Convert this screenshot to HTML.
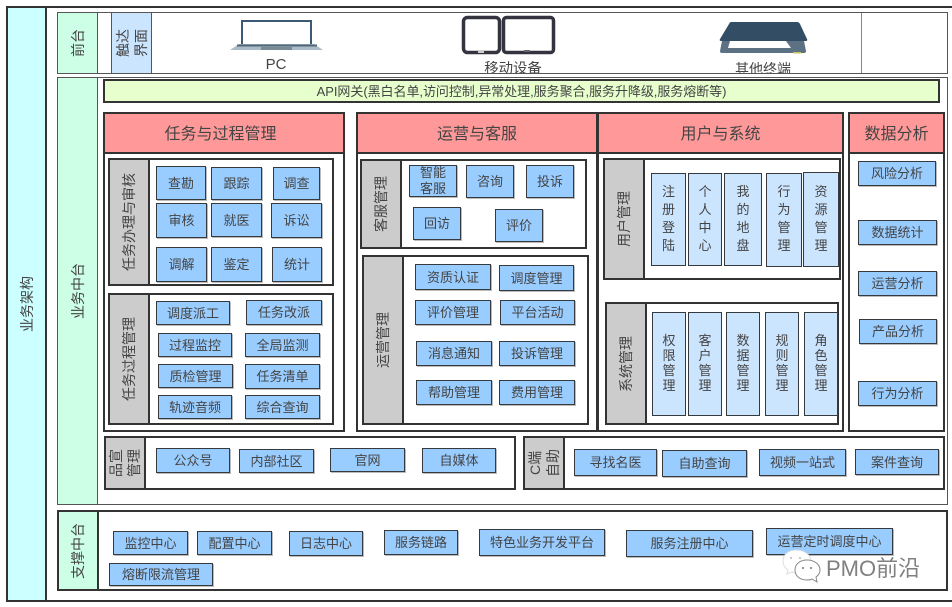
<!DOCTYPE html>
<html lang="zh"><head><meta charset="utf-8"><title>业务架构</title>
<style>
html,body{margin:0;padding:0;background:#fff}
#p{position:relative;width:952px;height:607px;overflow:hidden;background:#fff;font-family:"Liberation Sans","Noto Sans CJK SC",sans-serif;color:#444}
#p div{position:absolute;box-sizing:border-box;display:flex;align-items:center;justify-content:center;text-align:center}
.f{border:2px solid #333;background:#fff}
.t{border:1px solid #555;background:#fff}
.g{border:2px solid #333;background:#ccc;font-size:14px}
.gn{background:#ccffe6;border:1px solid #555;font-size:14px}
.h{border:2px solid #333;background:#ff9999;font-size:16px;padding-bottom:2px}
.b{border:1px solid #36393d;background:#99ccff;font-size:13px;box-shadow:1px 1px 0 #bbb;padding-bottom:2px}
.l{border:1px solid #36393d;background:#cce5ff;font-size:13px;line-height:18px;padding-bottom:2px}
.l.s{line-height:15px}
.v{writing-mode:vertical-rl;text-orientation:sideways;transform:rotate(180deg);line-height:18px;white-space:nowrap;display:block}
.n{font-size:13px;background:none;white-space:nowrap}
</style></head><body><div id="p">

<div class="f" style="left:6px;top:6px;width:960px;height:596px;background:#fff"></div>
<div class="f" style="left:6px;top:6px;width:41px;height:596px;background:#ccffff;font-size:14px"><span class="v">业务架构</span></div>

<div class="t" style="left:57px;top:12px;width:891px;height:62px"></div>
<div class="gn" style="left:57px;top:12px;width:41px;height:62px"><span class="v">前台</span></div>
<div class="t" style="left:111px;top:12px;width:41px;height:62px;background:#cce5ff;font-size:14px"><span class="v">触达<br>界面</span></div>
<div style="left:861px;top:13px;width:1px;height:60px;background:#888"></div>

<svg style="position:absolute;left:225px;top:15px" width="105" height="40" viewBox="0 0 105 40">
<rect x="17" y="6" width="69" height="24" fill="#fff" stroke="#3d5a74" stroke-width="2"/>
<path d="M14 29H89L98 35H5Z" fill="#a9bcc7"/><rect x="12" y="29.500" width="80" height="2" fill="#54687a"/>
<rect x="36" y="32" width="31" height="3" fill="#7a8a95"/></svg>

<svg style="position:absolute;left:460px;top:14px" width="98" height="41" viewBox="0 0 98 41">
<rect x="3.500" y="3.500" width="36" height="35" rx="4" fill="#fff" stroke="#33343f" stroke-width="3.500"/>
<rect x="43.500" y="3.500" width="50" height="35" rx="3" fill="#fff" stroke="#33343f" stroke-width="3.500"/>
<rect x="18" y="36" width="6" height="3" fill="#ccc"/><rect x="64" y="36" width="6" height="2" fill="#666"/></svg>

<svg style="position:absolute;left:715px;top:18px" width="96" height="38" viewBox="0 0 96 38">
<path d="M7 23H89L91 33Q91 35 89 35H7Q5 35 5 33Z" fill="#5c7184"/>
<path d="M15 23H71L76 30H13Z" fill="#fff"/>
<path d="M16 4H82Q84 4 85 6L92 21Q93 23 91 23H6Q4 23 5 21L14 6Q15 4 16 4Z" fill="#334d64"/>
<rect x="78" y="34" width="8" height="1.500" fill="#c7c25c"/></svg>

<div class="n" style="left:256px;top:56px;width:40px;height:17px;font-size:15px">PC</div>
<div class="n" style="left:473px;top:61px;width:80px;height:12px;overflow:hidden;align-items:flex-start;line-height:16px;font-size:14.4px">移动设备</div>
<div class="n" style="left:723px;top:61px;width:80px;height:12px;overflow:hidden;align-items:flex-start;line-height:16px;font-size:14px">其他终端</div>

<div class="t" style="left:57px;top:77px;width:891px;height:428px"></div>
<div class="gn" style="left:57px;top:77px;width:41px;height:428px"><span class="v">业务中台</span></div>
<div class="f" style="left:103px;top:79px;width:837px;height:24px;background:#e6ffcc;font-size:13px;white-space:nowrap;padding-bottom:2px;letter-spacing:-.05px">API网关(黑白名单,访问控制,异常处理,服务聚合,服务升降级,服务熔断等)</div>

<div class="f" style="left:103px;top:112px;width:242px;height:320px"></div>
<div class="h" style="left:103px;top:112px;width:242px;height:42px;padding-right:7px">任务与过程管理</div>
<div class="f" style="left:356px;top:112px;width:242px;height:320px"></div>
<div class="h" style="left:356px;top:112px;width:242px;height:42px">运营与客服</div>
<div class="f" style="left:597px;top:112px;width:247px;height:320px"></div>
<div class="h" style="left:597px;top:112px;width:247px;height:42px">用户与系统</div>
<div class="f" style="left:848px;top:112px;width:97px;height:320px"></div>
<div class="h" style="left:848px;top:112px;width:97px;height:42px">数据分析</div>

<div class="f" style="left:108px;top:158px;width:226px;height:128px"></div>
<div class="g" style="left:108px;top:158px;width:42px;height:128px"><span class="v">任务办理与审核</span></div>
<div class="b" style="left:156px;top:166px;width:50px;height:34px">查勘</div>
<div class="b" style="left:211px;top:167px;width:51px;height:33px">跟踪</div>
<div class="b" style="left:273px;top:167px;width:47px;height:33px">调查</div>
<div class="b" style="left:156px;top:203px;width:51px;height:35px">审核</div>
<div class="b" style="left:211px;top:203px;width:51px;height:34px">就医</div>
<div class="b" style="left:271px;top:203px;width:51px;height:35px">诉讼</div>
<div class="b" style="left:156px;top:247px;width:51px;height:35px">调解</div>
<div class="b" style="left:211px;top:247px;width:51px;height:35px">鉴定</div>
<div class="b" style="left:272px;top:247px;width:50px;height:35px">统计</div>

<div class="f" style="left:108px;top:293px;width:226px;height:132px"></div>
<div class="g" style="left:108px;top:293px;width:42px;height:132px"><span class="v">任务过程管理</span></div>
<div class="b" style="left:156px;top:301px;width:74px;height:24px">调度派工</div>
<div class="b" style="left:246px;top:300px;width:76px;height:25px">任务改派</div>
<div class="b" style="left:158px;top:333px;width:74px;height:24px">过程监控</div>
<div class="b" style="left:245px;top:333px;width:75px;height:24px">全局监测</div>
<div class="b" style="left:158px;top:364px;width:75px;height:24px">质检管理</div>
<div class="b" style="left:245px;top:364px;width:75px;height:25px">任务清单</div>
<div class="b" style="left:158px;top:395px;width:74px;height:24px">轨迹音频</div>
<div class="b" style="left:245px;top:395px;width:75px;height:24px">综合查询</div>

<div class="f" style="left:360px;top:159px;width:227px;height:90px"></div>
<div class="g" style="left:360px;top:159px;width:42px;height:90px"><span class="v">客服管理</span></div>
<div class="b" style="left:409px;top:165px;width:48px;height:32px;line-height:16px;padding:0">智能<br>客服</div>
<div class="b" style="left:466px;top:165px;width:48px;height:33px">咨询</div>
<div class="b" style="left:526px;top:165px;width:48px;height:33px">投诉</div>
<div class="b" style="left:413px;top:207px;width:48px;height:33px">回访</div>
<div class="b" style="left:495px;top:209px;width:48px;height:33px">评价</div>

<div class="f" style="left:362px;top:255px;width:227px;height:170px"></div>
<div class="g" style="left:362px;top:255px;width:42px;height:170px"><span class="v">运营管理</span></div>
<div class="b" style="left:415px;top:264px;width:76px;height:26px">资质认证</div>
<div class="b" style="left:499px;top:265px;width:75px;height:26px">调度管理</div>
<div class="b" style="left:415px;top:300px;width:76px;height:25px">评价管理</div>
<div class="b" style="left:500px;top:300px;width:75px;height:25px">平台活动</div>
<div class="b" style="left:416px;top:341px;width:76px;height:25px">消息通知</div>
<div class="b" style="left:499px;top:341px;width:76px;height:25px">投诉管理</div>
<div class="b" style="left:416px;top:380px;width:76px;height:25px">帮助管理</div>
<div class="b" style="left:499px;top:380px;width:76px;height:25px">费用管理</div>

<div class="f" style="left:603px;top:158px;width:238px;height:122px"></div>
<div class="g" style="left:603px;top:158px;width:42px;height:122px"><span class="v">用户管理</span></div>
<div class="l" style="left:651px;top:173px;width:35px;height:93px">注<br>册<br>登<br>陆</div>
<div class="l" style="left:688px;top:173px;width:34px;height:93px">个<br>人<br>中<br>心</div>
<div class="l" style="left:724px;top:173px;width:38px;height:93px">我<br>的<br>地<br>盘</div>
<div class="l" style="left:766px;top:173px;width:36px;height:94px">行<br>为<br>管<br>理</div>
<div class="l" style="left:803px;top:172px;width:36px;height:95px">资<br>源<br>管<br>理</div>

<div class="f" style="left:605px;top:302px;width:234px;height:123px"></div>
<div class="g" style="left:605px;top:302px;width:42px;height:123px"><span class="v">系统管理</span></div>
<div class="l s" style="left:652px;top:312px;width:34px;height:104px">权<br>限<br>管<br>理</div>
<div class="l s" style="left:688px;top:312px;width:34px;height:104px">客<br>户<br>管<br>理</div>
<div class="l s" style="left:726px;top:312px;width:34px;height:104px">数<br>据<br>管<br>理</div>
<div class="l s" style="left:765px;top:312px;width:34px;height:104px">规<br>则<br>管<br>理</div>
<div class="l s" style="left:804px;top:312px;width:34px;height:104px">角<br>色<br>管<br>理</div>

<div class="b" style="left:858px;top:161px;width:78px;height:25px">风险分析</div>
<div class="b" style="left:858px;top:220px;width:79px;height:25px">数据统计</div>
<div class="b" style="left:858px;top:271px;width:79px;height:25px">运营分析</div>
<div class="b" style="left:859px;top:319px;width:78px;height:25px">产品分析</div>
<div class="b" style="left:858px;top:381px;width:79px;height:25px">行为分析</div>

<div class="f" style="left:104px;top:436px;width:412px;height:54px"></div>
<div class="g" style="left:104px;top:436px;width:42px;height:54px"><span class="v">品宣<br>管理</span></div>
<div class="b" style="left:156px;top:448px;width:74px;height:25px">公众号</div>
<div class="b" style="left:239px;top:449px;width:75px;height:24px">内部社区</div>
<div class="b" style="left:330px;top:448px;width:75px;height:24px">官网</div>
<div class="b" style="left:422px;top:448px;width:74px;height:25px">自媒体</div>

<div class="f" style="left:523px;top:436px;width:422px;height:54px"></div>
<div class="g" style="left:523px;top:436px;width:42px;height:54px"><span class="v">C端<br>自助</span></div>
<div class="b" style="left:574px;top:449px;width:83px;height:27px">寻找名医</div>
<div class="b" style="left:662px;top:450px;width:85px;height:27px">自助查询</div>
<div class="b" style="left:759px;top:449px;width:87px;height:27px">视频一站式</div>
<div class="b" style="left:855px;top:449px;width:84px;height:26px">案件查询</div>

<div class="f" style="left:57px;top:510px;width:891px;height:81px"></div>
<div class="gn" style="left:57px;top:510px;width:42px;height:81px;border:2px solid #333"><span class="v">支撑中台</span></div>
<div class="b" style="left:113px;top:531px;width:75px;height:24px">监控中心</div>
<div class="b" style="left:197px;top:531px;width:75px;height:24px">配置中心</div>
<div class="b" style="left:289px;top:531px;width:74px;height:25px">日志中心</div>
<div class="b" style="left:384px;top:530px;width:74px;height:25px">服务链路</div>
<div class="b" style="left:479px;top:529px;width:126px;height:27px">特色业务开发平台</div>
<div class="b" style="left:626px;top:530px;width:127px;height:27px">服务注册中心</div>
<div class="b" style="left:766px;top:528px;width:127px;height:27px">运营定时调度中心</div>
<div class="b" style="left:109px;top:563px;width:104px;height:23px">熔断限流管理</div>

<svg style="position:absolute;left:781px;top:548px" width="42" height="36" viewBox="0 0 42 36">
<path d="M15 2C7 2 2 7 2 13C2 17 4 20 7 22L6 26L11 24C13 25 16 25 18 25C27 25 30 19 30 13C30 7 23 2 15 2Z" fill="#fff" stroke="#ddd"/>
<path d="M26 12C19 12 14 16 14 22C14 28 19 32 26 32C28 32 30 32 31 31L36 34L35 29C38 27 39 25 39 22C39 16 33 12 26 12Z" fill="#fff" stroke="#888"/>
<circle cx="22" cy="20" r="1" fill="#777"/><circle cx="30" cy="20" r="1" fill="#777"/>
<circle cx="10" cy="10" r="1" fill="#bbb"/><circle cx="19" cy="10" r="1" fill="#bbb"/></svg>
<div class="n" style="left:826px;top:553px;width:100px;height:27px;font-size:22px;color:#808080;justify-content:flex-start;text-shadow:0 0 1px #fff">PMO前沿</div>
</div></body></html>
